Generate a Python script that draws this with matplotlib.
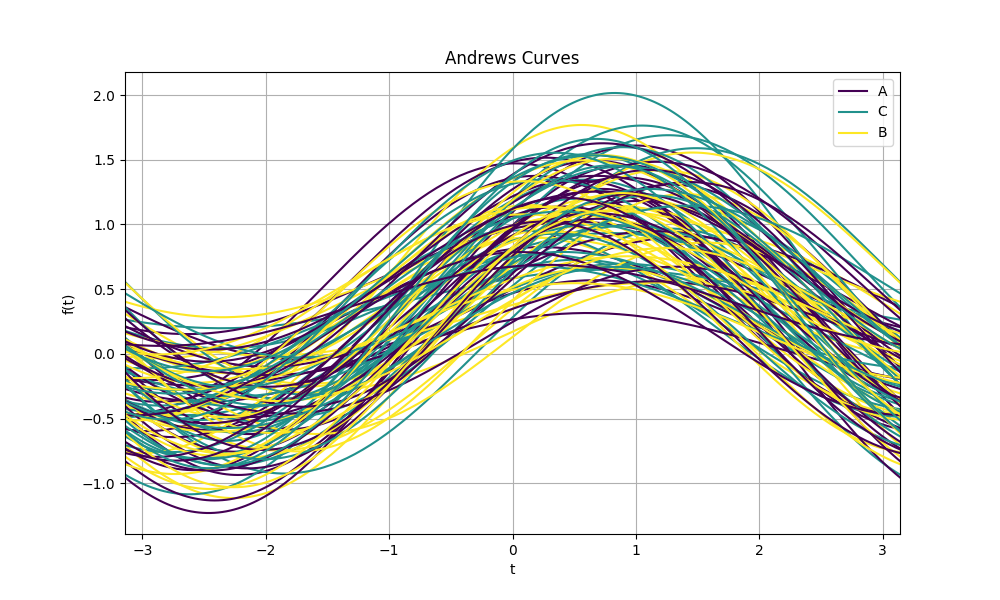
#!/usr/bin/env python3
"""
Andrews curves for a small 3-feature table with classes A / B / C.
f(t) = x1/sqrt(2) + x2*sin(t) + x3*cos(t)
Output: out.png
"""

import numpy as np
import matplotlib
matplotlib.use("Agg")
import matplotlib.pyplot as plt

# ── Data (one entry per sample) ─────────────────────────────
labels = [
    "A", "C", "B", "A", "A", "C", "B", "A", "C", "B",
    "A", "C", "B", "A", "C", "B", "A", "A", "C", "B",
    "A", "C", "B", "A", "C", "B", "A", "C", "B", "A",
    "C", "B", "A", "C", "B", "A", "C", "B", "A", "C",
    "B", "A", "C", "B", "B", "C", "B", "A", "C", "B",
    "A", "C", "B", "A", "C", "B", "A", "C", "B", "A",
    "C", "B", "A", "C", "B", "A", "C", "B", "A", "C",
    "B", "A", "C", "B", "A", "C", "B", "A", "C", "B",
    "A", "C", "B", "A", "C", "B", "A", "C", "B", "A",
    "C", "B", "A", "C", "B", "A", "C", "B", "A", "C",
]

feature1 = [
    0.37, 0.60, 0.02, 0.71, 0.83, 0.18, 0.43, 0.14, 0.46, 0.51,
    0.61, 0.95, 0.30, 0.44, 0.03, 0.66, 0.55, 0.70, 0.08, 0.20,
    0.51, 0.59, 0.61, 0.43, 0.33, 0.85, 0.31, 0.23, 0.11, 0.35,
    0.09, 0.27, 0.02, 0.69, 0.98, 0.60, 0.95, 0.47, 0.05, 0.88,
    0.76, 0.10, 0.90, 0.23, 0.92, 0.26, 0.17, 0.64, 0.41, 0.38,
    0.81, 0.13, 0.57, 0.28, 0.70, 0.05, 0.49, 0.40, 0.90, 0.15,
    0.67, 0.34, 0.93, 0.12, 0.63, 0.25, 0.52, 0.01, 0.87, 0.36,
    0.72, 0.10, 0.79, 0.45, 0.97, 0.29, 0.58, 0.39, 0.84, 0.19,
    0.65, 0.07, 0.53, 0.22, 0.74, 0.32, 0.48, 0.56, 0.08, 0.91,
    0.42, 0.80, 0.16, 0.62, 0.24, 0.53, 0.99, 0.15, 0.27, 0.55,
]

feature2 = [
    0.95, 0.16, 0.87, 0.02, 0.21, 0.30, 0.29, 0.29, 0.79, 0.59,
    0.47, 0.97, 0.10, 0.12, 0.91, 0.31, 0.18, 0.94, 0.57, 0.44,
    0.91, 0.52, 0.12, 0.83, 0.03, 0.62, 0.59, 0.14, 0.78, 0.35,
    0.69, 0.13, 0.78, 0.32, 0.29, 0.48, 0.99, 0.18, 0.16, 0.99,
    0.52, 0.80, 0.95, 0.81, 0.90, 0.40, 0.74, 0.64, 0.57, 0.26,
    0.25, 0.54, 0.95, 0.33, 0.86, 0.42, 0.71, 0.06, 0.47, 0.55,
    0.24, 0.98, 0.45, 0.30, 0.06, 0.89, 0.68, 0.37, 0.80, 0.21,
    0.73, 0.62, 0.58, 0.35, 0.63, 0.92, 0.09, 0.50, 0.67, 0.20,
    0.86, 0.46, 0.77, 0.04, 0.35, 0.56, 0.97, 0.27, 0.70, 0.39,
    0.83, 0.15, 0.23, 0.75, 0.69, 0.09, 0.51, 0.88, 0.41, 0.80,
]

feature3 = [
    0.73, 0.16, 0.72, 0.97, 0.38, 0.52, 0.61, 0.37, 0.20, 0.05,
    0.07, 0.31, 0.68, 0.50, 0.26, 0.52, 0.97, 0.60, 0.99, 0.03,
    0.26, 0.77, 0.45, 0.66, 0.72, 0.99, 0.95, 0.59, 0.27, 0.82,
    0.62, 0.95, 0.97, 0.31, 0.29, 0.21, 0.91, 0.79, 0.23, 0.57,
    0.45, 0.90, 0.08, 0.52, 0.10, 0.32, 0.01, 0.82, 0.41, 0.11,
    0.91, 0.73, 0.36, 0.15, 0.69, 0.48, 0.44, 0.39, 0.72, 0.14,
    0.84, 0.17, 0.56, 0.79, 0.63, 0.58, 0.96, 0.86, 0.34, 0.49,
    0.68, 0.75, 0.09, 0.26, 0.70, 0.44, 0.92, 0.64, 0.53, 0.36,
    0.12, 0.42, 0.87, 0.63, 0.97, 0.19, 0.48, 0.65, 0.85, 0.47,
    0.81, 0.55, 0.88, 0.37, 0.64, 0.30, 0.66, 0.72, 0.93, 0.99,
]


def andrews(x1, x2, x3, t):
    return x1 / np.sqrt(2.0) + x2 * np.sin(t) + x3 * np.cos(t)


def main():
    t = np.linspace(-np.pi, np.pi, 200)

    # class colours in order of first appearance, spread over viridis
    classes = list(dict.fromkeys(labels))
    cmap = plt.get_cmap("viridis")
    colors = {c: cmap(v) for c, v in zip(classes, np.linspace(0, 1, len(classes)))}

    fig, ax = plt.subplots(figsize=(10, 6), dpi=100)
    seen = set()
    for lab, a, b, c in zip(labels, feature1, feature2, feature3):
        kw = {}
        if lab not in seen:
            kw["label"] = lab
            seen.add(lab)
        ax.plot(t, andrews(a, b, c, t), color=colors[lab], **kw)

    ax.set_xlim(-np.pi, np.pi)
    ax.set_title("Andrews Curves")
    ax.set_xlabel("t")
    ax.set_ylabel("f(t)")
    ax.legend(loc="upper right")
    ax.grid(True)

    fig.savefig("out.png", dpi=100)
    plt.close(fig)


if __name__ == "__main__":
    main()
